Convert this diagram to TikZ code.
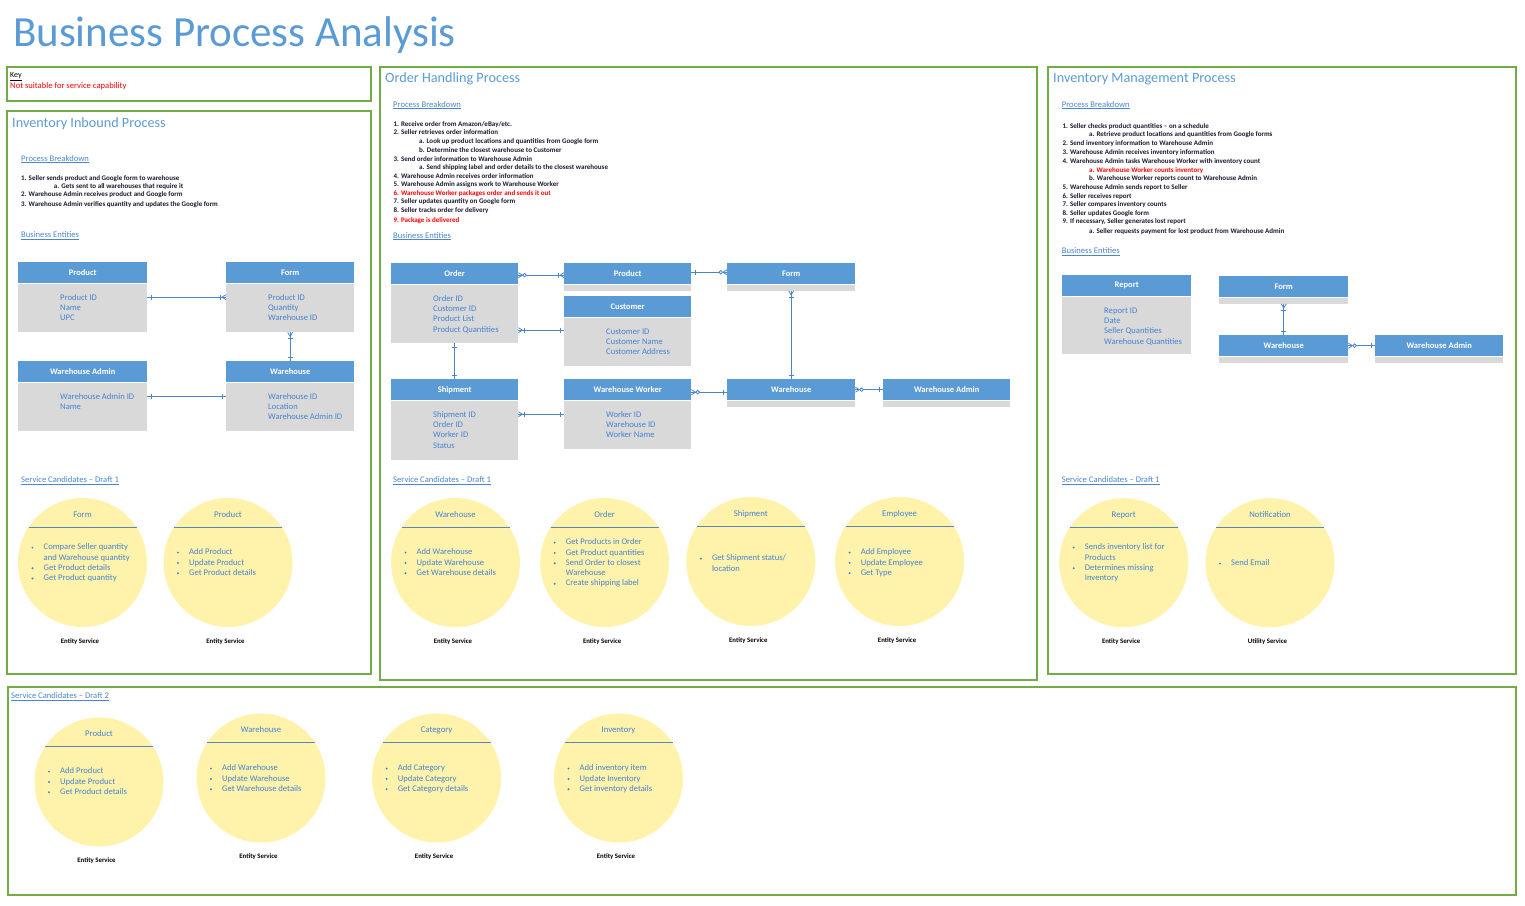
\documentclass[tikz,border=0pt]{standalone}
\usepackage{fontspec}
\setmainfont{Carlito}
\usetikzlibrary{calc}
\definecolor{hdr}{HTML}{5B9BD5}
\definecolor{bodyg}{HTML}{D9D9D9}
\definecolor{attrc}{HTML}{4683CF}
\definecolor{frame}{HTML}{70AD47}
\definecolor{circ}{HTML}{FFF2AB}
\definecolor{chordc}{HTML}{5A86BE}
\definecolor{connc}{HTML}{4A86C5}
\definecolor{link}{HTML}{4A86D0}
\definecolor{ttl}{HTML}{5B9BD5}
\definecolor{steptext}{HTML}{1A1A2E}
\tikzset{
 frm/.style={draw=frame, line width=1.2pt},
 ehead/.style={fill=hdr, draw=none, anchor=north west, minimum height=21pt, inner sep=0, text=white, font=\fontsize{8.5}{9}\selectfont\bfseries},
 ebody/.style={fill=bodyg, draw=none, anchor=north west, inner sep=0},
 attr/.style={anchor=base west, inner sep=0, text=attrc, font=\fontsize{8.6}{10}\selectfont},
 steptxt/.style={anchor=base west, inner sep=0, text=steptext, font=\fontsize{7}{8}\selectfont\bfseries},
 redtxt/.style={steptxt, text=red},
 lnk/.style={anchor=base west, inner sep=0, text=link, font=\fontsize{8.6}{10}\selectfont},
 sect/.style={anchor=base west, inner sep=0, text=ttl, font=\fontsize{14.2}{16}\selectfont},
 svcc/.style={circle, fill=circ, draw=none, minimum size=129pt, inner sep=0},
 ctitle/.style={anchor=base, inner sep=0, text=attrc, font=\fontsize{8.7}{10}\selectfont},
 chordl/.style={draw=chordc, line width=0.9pt},
 item/.style={anchor=base west, inner sep=0, text=attrc, font=\fontsize{8.6}{10}\selectfont},
 eslabel/.style={anchor=base, inner sep=0, font=\fontsize{6.8}{8}\selectfont\bfseries},
 conn/.style={draw=connc, line width=0.8pt},
 er one/.pic={\draw[conn] (4,-2.5)--(4,2.5);},
 er zm/.pic={\draw[conn] (0,-2.5)--(4,0)--(0,2.5); \draw[conn,fill=white] (6.2,0) circle (1.8pt);},
 er om/.pic={\draw[conn] (0,-2.5)--(4,0)--(0,2.5); \draw[conn] (6,-2.5)--(6,2.5);},
}
\newcommand\entity[7]{%
 \node[ehead, minimum width=#4pt] (#1) at (#2,#3) {#6};
 \node[ebody, minimum width=#4pt, minimum height=#5pt] (#1b) at (#2,{#3+22}) {};
 \foreach \a [count=\i] in {#7} {\node[attr] (#1a\i) at ({#2+42},{#3+22+13.5+2.7+(\i-1)*10.3}) {\a};}
}
\newcommand\entstrip[5]{%
 \node[ehead, minimum width=#4pt] (#1) at (#2,#3) {#5};
 \node[ebody, minimum width=#4pt, minimum height=5.5pt] (#1b) at (#2,{#3+22}) {};
}
\newcommand\svc[7]{%
 \node[svcc] (#1) at (#2,#3) {};
 \node[ctitle] (#1t) at ({#2},{#3-48.5+3}) {#4};
 \draw[chordl] ($(#1.center)+(-54,-35.5)$) -- ($(#1.center)+(54,-35.5)$);
 \foreach \b/\t [count=\i] in {#6} {
   \node[item] (#1i\i) at ({#2-39},{#3+#5+2.7+(\i-1)*10.3}) {\t};
   \ifnum\b=1 \fill[attrc] ({#2-50},{#3+#5+0.6+(\i-1)*10.3}) circle (1.1pt);\fi
 }
 \node[eslabel] (#1l) at ({#2-2.5},{#3+80.5}) {#7};
}
\begin{document}
\begin{tikzpicture}[x=1pt,y=-1pt]
\useasboundingbox (0,0) rectangle (1525,905);
\fill[white] (0,0) rectangle (1525,905);
% title
\node[anchor=base west, inner sep=0, text=ttl, font=\fontsize{43}{47}\selectfont] (title) at (13,46.7) {Business Process Analysis};
% frames
\draw[frm] (7,67) rectangle (371,101);
\draw[frm] (7,111) rectangle (371,674);
\draw[frm] (380,67) rectangle (1037,680);
\draw[frm] (1048,67) rectangle (1516,674);
\draw[frm] (8,687) rectangle (1516,895);
% key
\node[anchor=base west, inner sep=0, font=\fontsize{8}{10}\selectfont] (key) at (10,77.6) {\underline{Key}};
\node[anchor=base west, inner sep=0, text=red, font=\fontsize{8.6}{10}\selectfont] (keyr) at (10,88.3) {Not suitable for service capability};
% ===== Inventory Inbound =====
\node[sect] (ibT) at (12,127.8) {Inventory Inbound Process};
\node[lnk] (ibPB) at (21,161.1) {\underline{Process Breakdown}};
\node[steptxt] (ib1) at (21,180.2) {1. Seller sends product and Google form to warehouse};
\node[steptxt] (ib1a) at (53.7,188.9) {a. Gets sent to all warehouses that require it};
\node[steptxt] (ib2) at (21,196.9) {2. Warehouse Admin receives product and Google form};
\node[steptxt] (ib3) at (21,206.9) {3. Warehouse Admin verifies quantity and updates the Google form};
\node[lnk] (ibBE) at (21,237.8) {\underline{Business Entities}};
\entity{ibProd}{18}{262}{129}{48}{Product}{Product ID, Name, UPC}
\entity{ibForm}{226}{262}{128}{48}{Form}{Product ID, Quantity, Warehouse ID}
\entity{ibWA}{18}{361}{129}{48}{Warehouse Admin}{Warehouse Admin ID, Name}
\entity{ibWH}{226}{361}{128}{48}{Warehouse}{Warehouse ID, Location, Warehouse Admin ID}
\draw[conn] ([yshift=11pt]ibProdb.east) coordinate (i1) -- (i1 -| ibFormb.west) coordinate (i1e);
\pic at (i1) {er one}; \pic[rotate=180] at (i1e) {er om};
\draw[conn] (ibFormb.south) -- (ibWH.north);
\pic[rotate=-90] at (ibFormb.south) {er om}; \pic[rotate=90] at (ibWH.north) {er one};
\draw[conn] ([yshift=11pt]ibWAb.east) coordinate (i3) -- (i3 -| ibWHb.west) coordinate (i3e);
\pic at (i3) {er one}; \pic[rotate=180] at (i3e) {er one};
\node[lnk] (ibSC) at (21,482.8) {\underline{Service Candidates – Draft 1}};
\svc{sA}{82.5}{562.5}{Form}{-15.5}{1/Compare Seller quantity, 0/and Warehouse quantity, 1/Get Product details, 1/Get Product quantity}{Entity Service}
\svc{sB}{228}{562.5}{Product}{-10.5}{1/Add Product, 1/Update Product, 1/Get Product details}{Entity Service}
% ===== Order Handling =====
\node[sect] (ohT) at (385,82.5) {Order Handling Process};
\node[lnk] (ohPB) at (393,107.1) {\underline{Process Breakdown}};
\node[steptxt] (oh1) at (393.3,126.2) {1. Receive order from Amazon/eBay/etc.};
\node[steptxt] (oh2) at (393.3,134.9) {2. Seller retrieves order information};
\node[steptxt] (oh2a) at (419,143.9) {a. Look up product locations and quantities from Google form};
\node[steptxt] (oh2b) at (419,152.9) {b. Determine the closest warehouse to Customer};
\node[steptxt] (oh3) at (393.3,161.2) {3. Send order information to Warehouse Admin};
\node[steptxt] (oh3a) at (419,169.9) {a. Send shipping label and order details to the closest warehouse};
\node[steptxt] (oh4) at (393.3,178.9) {4. Warehouse Admin receives order information};
\node[steptxt] (oh5) at (393.3,186.9) {5. Warehouse Admin assigns work to Warehouse Worker};
\node[redtxt] (oh6) at (393.3,195.5) {6. Warehouse Worker packages order and sends it out};
\node[steptxt] (oh7) at (393.3,203.5) {7. Seller updates quantity on Google form};
\node[steptxt] (oh8) at (393.3,212.5) {8. Seller tracks order for delivery};
\node[redtxt] (oh9) at (393.3,222.5) {9. Package is delivered};
\node[lnk] (ohBE) at (393,238.1) {\underline{Business Entities}};
\entity{ohOrder}{391}{263}{127}{58}{Order}{Order ID, Customer ID, Product List, Product Quantities}
\entstrip{ohProd}{564}{263}{127}{Product}
\entstrip{ohForm}{727}{263}{128}{Form}
\entity{ohCust}{564}{296}{127}{48}{Customer}{Customer ID, Customer Name, Customer Address}
\entity{ohShip}{391}{379}{127}{59}{Shipment}{Shipment ID, Order ID, Worker ID, Status}
\entity{ohWW}{564}{379}{127}{48}{Warehouse Worker}{Worker ID, Warehouse ID, Worker Name}
\entstrip{ohWH}{727}{379}{128}{Warehouse}
\entstrip{ohWA}{883}{379}{127}{Warehouse Admin}
\draw[conn] ([yshift=-1.5pt]ohOrder.east) coordinate (o1) -- (o1 -| ohProd.west) coordinate (o1e);
\pic at (o1) {er zm}; \pic[rotate=180] at (o1e) {er om};
\draw[conn] ([yshift=1.5pt]ohProd.east) coordinate (o2) -- (o2 -| ohForm.west) coordinate (o2e);
\pic at (o2) {er one}; \pic[rotate=180] at (o2e) {er zm};
\draw[conn] ([yshift=-16pt]ohOrderb.east) coordinate (o3) -- (o3 -| ohCustb.west) coordinate (o3e);
\pic at (o3) {er om}; \pic[rotate=180] at (o3e) {er one};
\draw[conn] (ohOrderb.south) -- (ohShip.north);
\pic[rotate=-90] at (ohOrderb.south) {er one}; \pic[rotate=90] at (ohShip.north) {er one};
\draw[conn] ([yshift=16.5pt]ohShipb.east) coordinate (o5) -- (o5 -| ohWWb.west) coordinate (o5e);
\pic at (o5) {er om}; \pic[rotate=180] at (o5e) {er one};
\draw[conn] ([yshift=-2.5pt]ohWW.east) coordinate (o6) -- (o6 -| ohWH.west) coordinate (o6e);
\pic at (o6) {er zm}; \pic[rotate=180] at (o6e) {er one};
\draw[conn] (ohFormb.south) -- (ohWH.north);
\pic[rotate=-90] at (ohFormb.south) {er om}; \pic[rotate=90] at (ohWH.north) {er one};
\draw[conn] (ohWH.east) -- (ohWA.west);
\pic at (ohWH.east) {er zm}; \pic[rotate=180] at (ohWA.west) {er one};
\node[lnk] (ohSC) at (393,482.8) {\underline{Service Candidates – Draft 1}};
\svc{sC}{455.5}{562.5}{Warehouse}{-10.5}{1/Add Warehouse, 1/Update Warehouse, 1/Get Warehouse details}{Entity Service}
\svc{sD}{604.7}{562.5}{Order}{-20.5}{1/Get Products in Order, 1/Get Product quantities, 1/Send Order to closest, 0/Warehouse, 1/Create shipping label}{Entity Service}
\svc{sE}{750.8}{561.5}{Shipment}{-3.5}{1/{Get Shipment status/}, 0/location}{Entity Service}
\svc{sF}{899.6}{561.5}{Employee}{-9.5}{1/Add Employee, 1/Update Employee, 1/Get Type}{Entity Service}
% ===== Inventory Management =====
\node[sect] (imT) at (1053,82.5) {Inventory Management Process};
\node[lnk] (imPB) at (1061.7,107.2) {\underline{Process Breakdown}};
\node[steptxt] (im1) at (1062.4,128.1) {1. Seller checks product quantities – on a schedule};
\node[steptxt] (im1a) at (1089,136.8) {a. Retrieve product locations and quantities from Google forms};
\node[steptxt] (im2) at (1062.4,145.9) {2. Send inventory information to Warehouse Admin};
\node[steptxt] (im3) at (1062.4,154.2) {3. Warehouse Admin receives inventory information};
\node[steptxt] (im4) at (1062.4,163.0) {4. Warehouse Admin tasks Warehouse Worker with inventory count};
\node[redtxt] (im4a) at (1089,172.2) {a. Warehouse Worker counts inventory};
\node[steptxt] (im4b) at (1089,180.2) {b. Warehouse Worker reports count to Warehouse Admin};
\node[steptxt] (im5) at (1062.4,189.2) {5. Warehouse Admin sends report to Seller};
\node[steptxt] (im6) at (1062.4,198.2) {6. Seller receives report};
\node[steptxt] (im7) at (1062.4,206.2) {7. Seller compares inventory counts};
\node[steptxt] (im8) at (1062.4,215.2) {8. Seller updates Google form};
\node[steptxt] (im9) at (1062.4,223.8) {9. If necessary, Seller generates lost report};
\node[steptxt] (im9a) at (1089,233.2) {a. Seller requests payment for lost product from Warehouse Admin};
\node[lnk] (imBE) at (1061.7,253.8) {\underline{Business Entities}};
\entity{imRep}{1062}{275}{129}{57}{Report}{Report ID, Date, Seller Quantities, Warehouse Quantities}
\entstrip{imForm}{1219}{276}{129}{Form}
\entstrip{imWH}{1219}{335}{129}{Warehouse}
\entstrip{imWA}{1375}{335}{128}{Warehouse Admin}
\draw[conn] (imFormb.south) -- (imWH.north);
\pic[rotate=-90] at (imFormb.south) {er om}; \pic[rotate=90] at (imWH.north) {er one};
\draw[conn] (imWH.east) -- (imWA.west);
\pic at (imWH.east) {er zm}; \pic[rotate=180] at (imWA.west) {er one};
\node[lnk] (imSC) at (1061.7,482.8) {\underline{Service Candidates – Draft 1}};
\svc{sG}{1123.7}{562.7}{Report}{-15.7}{1/Sends inventory list for, 0/Products, 1/Determines missing, 0/Inventory}{Entity Service}
\svc{sH}{1270}{562.7}{Notification}{0.3}{1/Send Email}{Utility Service}
% ===== Draft 2 =====
\node[lnk] (d2SC) at (11,698.8) {\underline{Service Candidates – Draft 2}};
\svc{sI}{99}{782}{Product}{-11}{1/Add Product, 1/Update Product, 1/Get Product details}{Entity Service}
\svc{sJ}{261}{778}{Warehouse}{-10}{1/Add Warehouse, 1/Update Warehouse, 1/Get Warehouse details}{Entity Service}
\svc{sK}{436.6}{778}{Category}{-10}{1/Add Category, 1/Update Category, 1/Get Category details}{Entity Service}
\svc{sL}{618.5}{778}{Inventory}{-10}{1/Add inventory item, 1/Update Inventory, 1/Get inventory details}{Entity Service}
\end{tikzpicture}
\end{document}
